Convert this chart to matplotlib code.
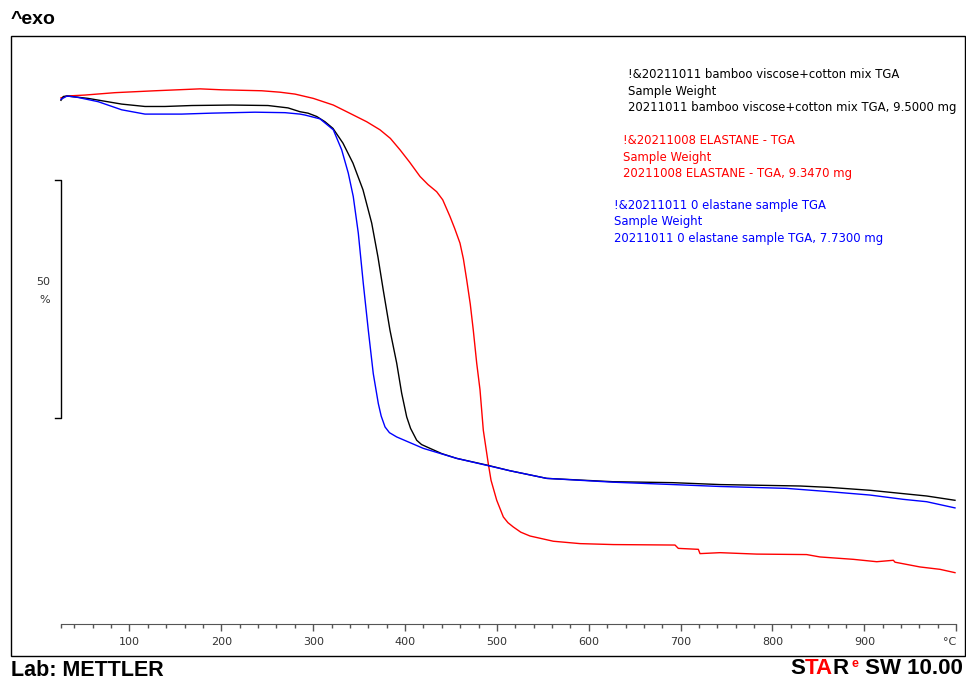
"""TGA weight-loss curves, METTLER STARe style plot."""
import matplotlib.pyplot as plt
from matplotlib.patches import Rectangle
from matplotlib.ticker import FixedLocator

# bamboo viscose + cotton mix (black)
temp_black = [25.4, 28.0, 32.0, 54.8, 91.5, 116.9, 138.6, 167.7, 211.3, 250.8,
              272.6, 285.6, 294.3, 303.8, 312.8, 321.5, 332.4, 343.3, 354.2,
              363.7, 370.5, 376.3, 383.6, 390.9, 396.3, 401.8, 406.0, 412.7,
              418.0, 427.2, 440.0, 456.2, 488.9, 514.3, 554.2, 626.4, 691.7,
              742.9, 830.0, 862.6, 906.2, 942.1, 967.9, 998.7]
wt_black = [99.3, 100.1, 100.2, 99.7, 98.5, 98.0, 98.0, 98.2, 98.3, 98.2,
            97.7, 96.9, 96.6, 95.9, 94.8, 93.4, 90.3, 86.1, 80.5,
            73.5, 66.4, 59.4, 51.0, 44.1, 37.8, 32.8, 30.4, 27.9,
            27.0, 26.2, 25.1, 24.1, 22.7, 21.5, 19.9, 19.2, 19.0,
            18.6, 18.3, 18.0, 17.4, 16.7, 16.2, 15.3]

# elastane (red)
temp_red = [25.4, 32.0, 51.6, 84.2, 127.8, 176.8, 200.4, 243.9, 263.8, 280.2,
            300.1, 321.9, 336.5, 358.2, 372.7, 384.0, 394.5, 405.0, 416.3,
            425.0, 434.4, 441.0, 448.9, 454.0, 459.8, 463.5, 467.1, 471.0,
            474.3, 478.0, 481.6, 485.2, 490.6, 493.6, 499.8, 507.0, 512.0,
            517.8, 526.0, 536.0, 561.4, 590.5, 626.7, 693.9, 697.5, 719.3,
            721.1, 742.9, 782.8, 837.2, 851.7, 888.0, 913.5, 931.6, 933.4,
            960.6, 982.4, 998.7]
wt_red = [99.8, 100.2, 100.4, 100.9, 101.3, 101.7, 101.5, 101.3, 101.0, 100.6,
          99.7, 98.3, 96.9, 94.8, 93.1, 91.3, 88.9, 86.3, 83.3,
          81.6, 80.1, 78.4, 74.9, 72.4, 69.3, 66.0, 61.6, 56.5,
          51.0, 44.1, 38.5, 30.0, 23.0, 19.5, 15.3, 11.8, 10.6,
          9.7, 8.6, 7.8, 6.7, 6.2, 6.0, 5.9, 5.2, 5.0,
          4.1, 4.3, 4.0, 3.9, 3.4, 2.9, 2.4, 2.7, 2.3,
          1.3, 0.8, 0.1]

# 0 elastane sample (blue)
temp_blue = [25.4, 32.0, 43.9, 66.0, 91.5, 116.9, 156.8, 189.5, 236.6, 269.3,
             285.6, 291.1, 307.4, 321.9, 331.0, 338.2, 343.6, 349.1, 354.5,
             360.0, 365.4, 370.9, 374.0, 378.2, 383.0, 390.9, 419.9, 456.2,
             514.3, 554.2, 626.4, 691.7, 742.9, 815.5, 862.6, 906.2, 942.4,
             967.9, 998.7]
wt_blue = [99.5, 100.2, 99.9, 99.0, 97.3, 96.4, 96.4, 96.6, 96.8, 96.7,
           96.4, 96.2, 95.4, 93.1, 88.9, 84.0, 79.1, 71.4, 60.9,
           51.0, 41.9, 35.6, 33.0, 30.7, 29.5, 28.6, 26.2, 24.1,
           21.5, 19.9, 19.1, 18.6, 18.2, 17.8, 17.1, 16.4, 15.5,
           15.0, 13.7]

major_ticks = [100, 200, 300, 400, 500, 600, 700, 800, 900, 1000]
major_labels = ['100', '200', '300', '400', '500', '600', '700', '800', '900', '°C']

legend_blocks = [
    ('black', ['!&20211011 bamboo viscose+cotton mix TGA', 'Sample Weight',
               '20211011 bamboo viscose+cotton mix TGA, 9.5000 mg']),
    ('#ff0000', ['!&20211008 ELASTANE - TGA', 'Sample Weight',
                 '20211008 ELASTANE - TGA, 9.3470 mg']),
    ('#0000ff', ['!&20211011 0 elastane sample TGA', 'Sample Weight',
                 '20211011 0 elastane sample TGA, 7.7300 mg']),
]

W, H = 966, 681
fig = plt.figure(figsize=(W / 100, H / 100), dpi=100)


def fx(px):
    return px / W


def fy(py):
    return 1 - py / H


# plotting area = the framed box
ax = fig.add_axes([fx(11), fy(656), (965 - 11) / W, (656 - 36) / H])
ax.set_xlim(-29.0, 1009.6)
ax.set_ylim(-17.4, 112.8)
ax.add_patch(Rectangle((0, 0), 1, 1, transform=ax.transAxes, fill=False,
                       lw=1.0, ec='black', clip_on=False))

for side in ['top', 'left', 'right']:
    ax.spines[side].set_visible(False)
ax.spines['bottom'].set_position(('data', -10.7))
ax.spines['bottom'].set_bounds(25, 1000)
ax.spines['bottom'].set_color('#555555')
ax.set_yticks([])

ax.xaxis.set_major_locator(FixedLocator(major_ticks))
ax.set_xticklabels(major_labels)
ax.xaxis.set_minor_locator(FixedLocator([25] + [t for t in range(40, 1000, 20)
                                                if t % 100]))
ax.tick_params(axis='x', which='major', direction='out', length=5, width=1,
               color='#555555', labelsize=8, labelcolor='#333333', pad=4)
ax.tick_params(axis='x', which='minor', direction='out', length=3, width=1,
               color='#555555')
ax.get_xticklabels()[-1].set_ha('right')

# TGA curves
ax.plot(temp_red, wt_red, color='#ff0000', lw=1.0)
ax.plot(temp_black, wt_black, color='black', lw=1.0)
ax.plot(temp_blue, wt_blue, color='#0000ff', lw=1.0)

# 50 % scale bar
ax.plot([19, 25.4, 25.4, 19], [82.6, 82.6, 32.6, 32.6], color='black', lw=1.0)
fig.text(fx(43), fy(282), '50', ha='center', va='center', fontsize=8,
         color='#333333')
fig.text(fx(45), fy(300), '%', ha='center', va='center', fontsize=8,
         color='#333333')

# curve captions
starts = [(628, 75), (623, 141), (614, 206)]
for (color, lines), (x0, y0) in zip(legend_blocks, starts):
    for i, line in enumerate(lines):
        fig.text(fx(x0), fy(y0 + i * 16), line, color=color, fontsize=8.4,
                 ha='left', va='center')

# header and footer
bold = dict(family='Liberation Sans', weight='bold')
fig.text(fx(11), fy(19), '^exo', fontsize=14, ha='left', va='center', **bold)
fig.text(fx(11), fy(671), 'Lab: METTLER', fontsize=15.5, ha='left',
         va='center', **bold)

s = fig.text(fx(790), fy(669), 'S', fontsize=16, ha='left', va='center',
             **bold)
ta = ax.annotate('TA', xy=(1, 0), xycoords=s, ha='left', va='bottom',
                 color='#ff0000', fontsize=16, **bold)
r = ax.annotate('R', xy=(1, 0), xycoords=ta, ha='left', va='bottom',
                fontsize=16, **bold)
e = ax.annotate('e', xy=(1, 0.45), xycoords=r, xytext=(1.5, 0),
                textcoords='offset points', ha='left', va='bottom',
                color='#ff0000', fontsize=9, **bold)
ax.annotate(' SW 10.00', xy=(1, 0), xycoords=r, xytext=(7, 0),
            textcoords='offset points', ha='left', va='bottom',
            fontsize=16, **bold)

fig.savefig('out.png', dpi=100)
